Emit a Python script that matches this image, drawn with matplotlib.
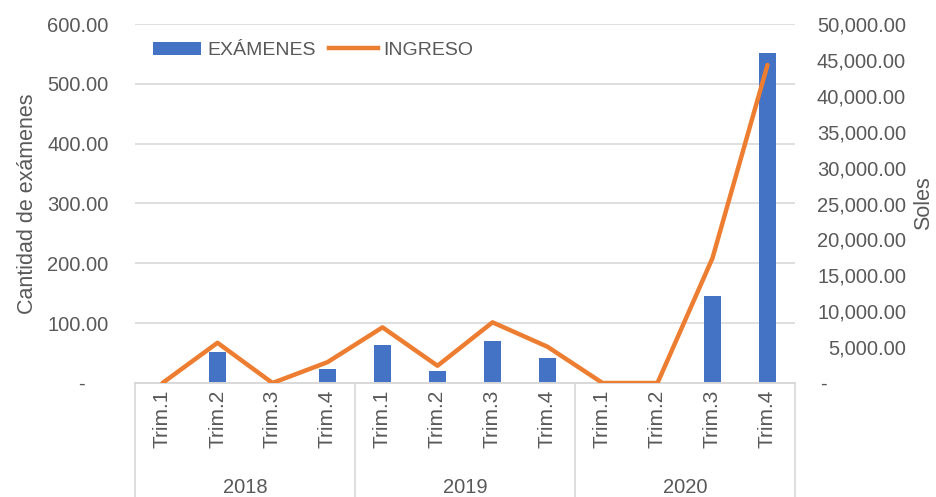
import numpy as np
import matplotlib.pyplot as plt
from matplotlib.ticker import FuncFormatter
from matplotlib.transforms import blended_transform_factory
from matplotlib.lines import Line2D
from matplotlib.patches import Patch

plt.rcParams['font.family'] = ['Liberation Sans', 'DejaVu Sans']

# Data
years = ['2018', '2019', '2020']
quarters = ['Trim.1', 'Trim.2', 'Trim.3', 'Trim.4']
examenes = [0, 51, 0, 23, 63, 20, 70, 42, 0, 0, 145, 552]
ingreso = [0, 5600, 0, 2900, 7750, 2400, 8450, 5050, 0, 0, 17400, 44300]

blue = '#4472C4'
orange = '#ED7D31'
grey = '#595959'
gridc = '#D9D9D9'

fig = plt.figure(figsize=(9.37, 4.97), dpi=100)
ax = fig.add_axes([135/937, 1 - 383/497, 660/937, 359/497])
ax2 = ax.twinx()

x = np.arange(len(examenes))
ax.bar(x, examenes, width=0.31, color=blue, zorder=2)
ax2.plot(x, ingreso, color=orange, lw=3.2, solid_capstyle='round', solid_joinstyle='round', zorder=3)

ax.set_xlim(-0.5, len(x) - 0.5)
ax.set_ylim(0, 600)
ax.set_yticks(np.arange(0, 601, 100))
ax2.set_ylim(0, 50000)
ax2.set_yticks(np.arange(0, 50001, 5000))

ax.yaxis.set_major_formatter(FuncFormatter(lambda v, p: '-    ' if v == 0 else f'{v:,.2f}'))
ax2.yaxis.set_major_formatter(FuncFormatter(lambda v, p: '-              ' if v == 0 else f'{v:,.2f}'))

ax.grid(axis='y', color=gridc, lw=1.2, zorder=0)
ax.set_axisbelow(True)
for a in (ax, ax2):
    for s in ('top', 'left', 'right'):
        a.spines[s].set_visible(False)
    a.spines['bottom'].set_color(gridc)
    a.spines['bottom'].set_linewidth(1.2)

ax.tick_params(axis='y', length=0, pad=19, labelsize=14.5, labelcolor=grey)
ax2.tick_params(axis='y', length=0, pad=80, labelsize=14.5, labelcolor=grey)
for lbl in ax2.get_yticklabels():
    lbl.set_horizontalalignment('right')

ax.set_xticks(x)
ax.set_xticklabels(quarters * len(years), rotation=90, va='top', ha='center')
ax.tick_params(axis='x', length=0, pad=5, labelsize=15, labelcolor=grey)

# Multi-level category axis
tr = blended_transform_factory(ax.transData, ax.transAxes)
for b in [-0.5, 3.5, 7.5, 11.5]:
    ax.add_line(Line2D([b, b], [0, -0.32], transform=tr, color=gridc, lw=1.2, clip_on=False))
for i, yr in enumerate(years):
    ax.text(i * 4 + 1.5, -0.29, yr, transform=tr, ha='center', va='center', fontsize=14.5, color=grey)

ax.set_ylabel('Cantidad de exámenes', fontsize=15.5, color=grey, labelpad=7)
ax2.set_ylabel('Soles', fontsize=15.5, color=grey, labelpad=5)

handles = [Patch(facecolor=blue, label='EXÁMENES'), Line2D([], [], color=orange, lw=3.2, label='INGRESO')]
ax.legend(handles=handles, loc='upper left', bbox_to_anchor=(0.0, 1.0), ncol=2, frameon=False,
          fontsize=14, labelcolor=grey, handlelength=2.5, handletextpad=0.3, columnspacing=0.7)

fig.savefig('out.png', dpi=100)
